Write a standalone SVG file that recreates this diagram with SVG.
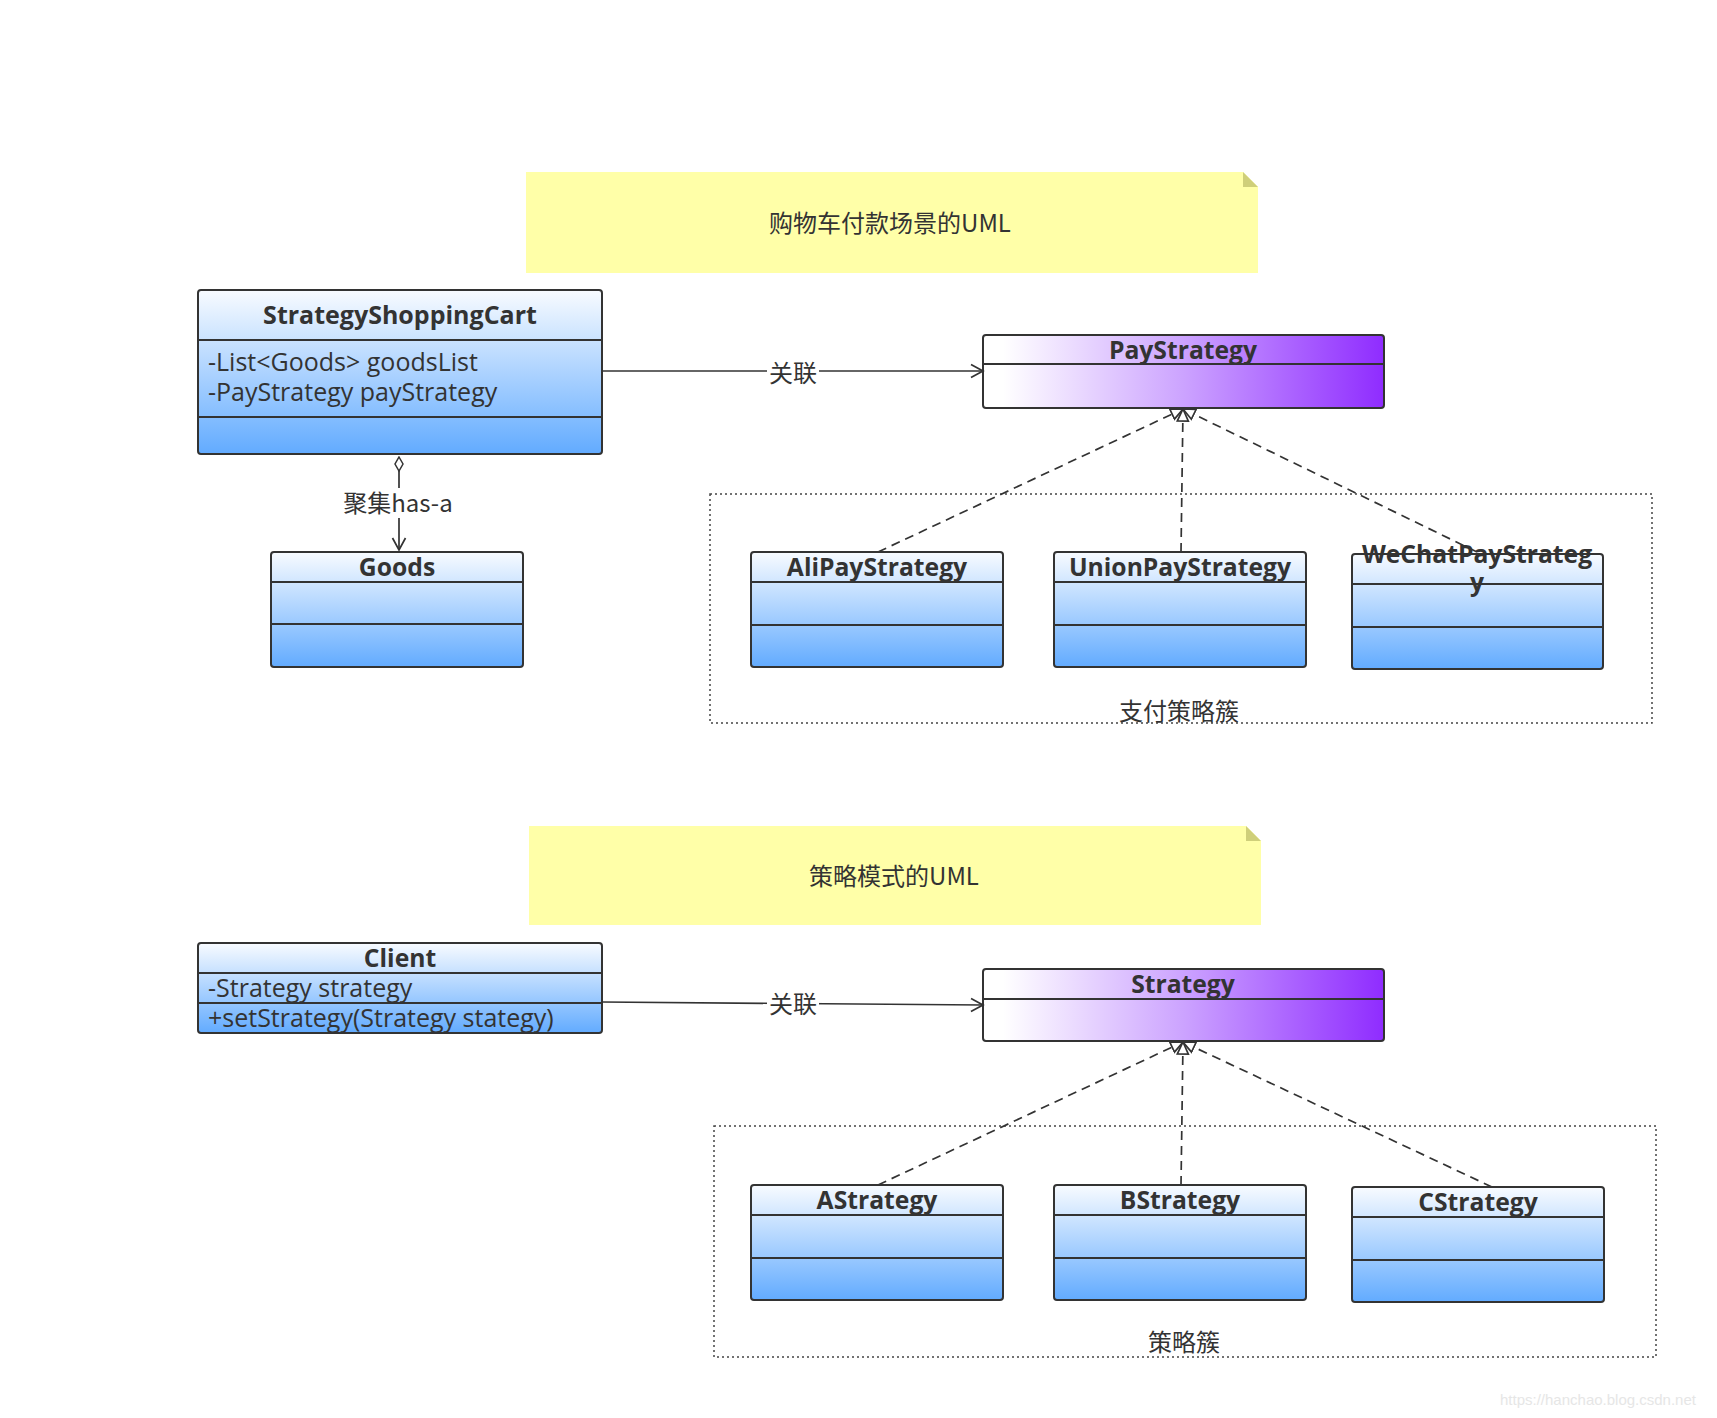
<svg xmlns="http://www.w3.org/2000/svg" width="1717" height="1418" viewBox="0 0 1717 1418">
<defs>
<linearGradient id="cls" x1="0" y1="0" x2="0" y2="1">
<stop offset="0" stop-color="#f8fbff"/>
<stop offset="1" stop-color="#62abff"/>
</linearGradient>
<linearGradient id="itf" x1="0" y1="0" x2="1" y2="0">
<stop offset="0.05" stop-color="#ffffff"/>
<stop offset="0.5" stop-color="#cca3ff"/>
<stop offset="1" stop-color="#8f2cff"/>
</linearGradient>
<marker id="open" markerWidth="16" markerHeight="16" refX="13" refY="8" orient="auto" markerUnits="userSpaceOnUse">
<path d="M1,1.5 L13,8 L1,14.5" fill="none" stroke="#333" stroke-width="1.7"/>
</marker>
<marker id="tri" markerWidth="15" markerHeight="14" refX="13" refY="7" orient="auto" markerUnits="userSpaceOnUse">
<path d="M1,1.5 L13,7 L1,12.5 Z" fill="#fff" stroke="#333" stroke-width="1.7"/>
</marker>
<marker id="dia" markerWidth="20" markerHeight="10" refX="1" refY="5" orient="auto" markerUnits="userSpaceOnUse">
<path d="M1,5 L8,1 L15,5 L8,9 Z" fill="#fff" stroke="#333" stroke-width="1.5"/>
</marker>
</defs>
<style>
.box{stroke:#333;stroke-width:2;}
.div{stroke:#333;stroke-width:2;}
.t{font-family:"Open Sans","Noto Sans CJK SC",sans-serif;font-weight:bold;font-size:24.7px;fill:#333;text-anchor:middle;}
.a{font-family:"Open Sans","Noto Sans CJK SC",sans-serif;font-size:25px;fill:#333;}
.lbl{font-family:"Noto Sans CJK SC",sans-serif;font-size:24px;fill:#333;text-anchor:middle;}
.note{fill:#ffffa8;}
.fold{fill:#cfcf7a;}
.grp{fill:none;stroke:#444;stroke-width:1.5;stroke-dasharray:2 3;}
.conn{fill:none;stroke:#333;stroke-width:1.7;}
.dash{fill:none;stroke:#333;stroke-width:1.7;stroke-dasharray:9 6;}
</style>

<g id="note1">
<path class="note" d="M526,172 H1243 L1258,187 V273 H526 Z"/>
<path class="fold" d="M1243,172 L1258,187 H1243 Z"/>
<text class="lbl" x="890" y="232">购物车付款场景的UML</text>
</g>
<g id="note2">
<path class="note" d="M529,826 H1246 L1261,841 V925 H529 Z"/>
<path class="fold" d="M1246,826 L1261,841 H1246 Z"/>
<text class="lbl" x="894" y="885">策略模式的UML</text>
</g>

<g id="group1">
<rect class="grp" x="710" y="494" width="942" height="229"/>
<text class="lbl" x="1179" y="720">支付策略簇</text>
</g>
<g id="group2">
<rect class="grp" x="714" y="1126" width="942" height="231"/>
<text class="lbl" x="1184" y="1351">策略簇</text>
</g>

<g id="StrategyShoppingCart">
<rect class="box" x="198" y="290" width="404" height="164" rx="3" fill="url(#cls)"/>
<line class="div" x1="198" y1="340" x2="602" y2="340"/>
<line class="div" x1="198" y1="417" x2="602" y2="417"/>
<text class="t" x="400" y="324" style="font-size:25px">StrategyShoppingCart</text>
<text class="a" x="208" y="371">-List&lt;Goods&gt; goodsList</text>
<text class="a" x="208" y="401">-PayStrategy payStrategy</text>
</g>

<g id="PayStrategy">
<rect class="box" x="983" y="335" width="401" height="73" rx="3" fill="url(#itf)"/>
<line class="div" x1="983" y1="364" x2="1384" y2="364"/>
<text class="t" x="1183" y="359">PayStrategy</text>
</g>

<g id="Goods">
<rect class="box" x="271" y="552" width="252" height="115" rx="3" fill="url(#cls)"/>
<line class="div" x1="271" y1="582" x2="523" y2="582"/>
<line class="div" x1="271" y1="624" x2="523" y2="624"/>
<text class="t" x="397" y="576">Goods</text>
</g>

<g id="AliPayStrategy">
<rect class="box" x="751" y="552" width="252" height="115" rx="3" fill="url(#cls)"/>
<line class="div" x1="751" y1="582" x2="1003" y2="582"/>
<line class="div" x1="751" y1="625" x2="1003" y2="625"/>
<text class="t" x="877" y="576">AliPayStrategy</text>
</g>

<g id="UnionPayStrategy">
<rect class="box" x="1054" y="552" width="252" height="115" rx="3" fill="url(#cls)"/>
<line class="div" x1="1054" y1="582" x2="1306" y2="582"/>
<line class="div" x1="1054" y1="625" x2="1306" y2="625"/>
<text class="t" x="1180" y="576">UnionPayStrategy</text>
</g>

<g id="WeChatPayStrategy">
<rect class="box" x="1352" y="554" width="251" height="115" rx="3" fill="url(#cls)"/>
<line class="div" x1="1352" y1="584" x2="1603" y2="584"/>
<line class="div" x1="1352" y1="627" x2="1603" y2="627"/>
<text class="t" x="1477" y="563">WeChatPayStrateg</text>
<text class="t" x="1477" y="591">y</text>
</g>

<g id="Client">
<rect class="box" x="198" y="943" width="404" height="90" rx="3" fill="url(#cls)"/>
<line class="div" x1="198" y1="973" x2="602" y2="973"/>
<line class="div" x1="198" y1="1003" x2="602" y2="1003"/>
<text class="t" x="400" y="967">Client</text>
<text class="a" x="208" y="997">-Strategy strategy</text>
<text class="a" x="208" y="1027">+setStrategy(Strategy stategy)</text>
</g>

<g id="Strategy">
<rect class="box" x="983" y="969" width="401" height="72" rx="3" fill="url(#itf)"/>
<line class="div" x1="983" y1="999" x2="1384" y2="999"/>
<text class="t" x="1183" y="993">Strategy</text>
</g>

<g id="AStrategy">
<rect class="box" x="751" y="1185" width="252" height="115" rx="3" fill="url(#cls)"/>
<line class="div" x1="751" y1="1215" x2="1003" y2="1215"/>
<line class="div" x1="751" y1="1258" x2="1003" y2="1258"/>
<text class="t" x="877" y="1209">AStrategy</text>
</g>

<g id="BStrategy">
<rect class="box" x="1054" y="1185" width="252" height="115" rx="3" fill="url(#cls)"/>
<line class="div" x1="1054" y1="1215" x2="1306" y2="1215"/>
<line class="div" x1="1054" y1="1258" x2="1306" y2="1258"/>
<text class="t" x="1180" y="1209">BStrategy</text>
</g>

<g id="CStrategy">
<rect class="box" x="1352" y="1187" width="252" height="115" rx="3" fill="url(#cls)"/>
<line class="div" x1="1352" y1="1217" x2="1604" y2="1217"/>
<line class="div" x1="1352" y1="1260" x2="1604" y2="1260"/>
<text class="t" x="1478" y="1211">CStrategy</text>
</g>

<g id="connectors">
<path class="conn" d="M602,371 H983" marker-end="url(#open)"/>
<rect x="767" y="357" width="52" height="30" fill="#fff"/>
<text class="lbl" x="793" y="382">关联</text>

<path class="conn" d="M399,457 L399,550" marker-start="url(#dia)" marker-end="url(#open)"/>
<rect x="340" y="488" width="118" height="30" fill="#fff"/>
<text class="lbl" x="398" y="512">聚集has-a</text>

<path class="dash" d="M878,552 L1183,409" marker-end="url(#tri)"/>
<path class="dash" d="M1181,552 L1183,409" marker-end="url(#tri)"/>
<path class="dash" d="M1477,552 L1183,409" marker-end="url(#tri)"/>

<path class="conn" d="M602,1002 L983,1005" marker-end="url(#open)"/>
<rect x="767" y="989" width="52" height="30" fill="#fff"/>
<text class="lbl" x="793" y="1013">关联</text>

<path class="dash" d="M878,1185 L1183,1042" marker-end="url(#tri)"/>
<path class="dash" d="M1181,1185 L1183,1042" marker-end="url(#tri)"/>
<path class="dash" d="M1492,1187 L1183,1042" marker-end="url(#tri)"/>
</g>

<text x="1500" y="1405" font-family="Liberation Sans, sans-serif" font-size="15" fill="#e6e6e6">https://hanchao.blog.csdn.net</text>
</svg>
